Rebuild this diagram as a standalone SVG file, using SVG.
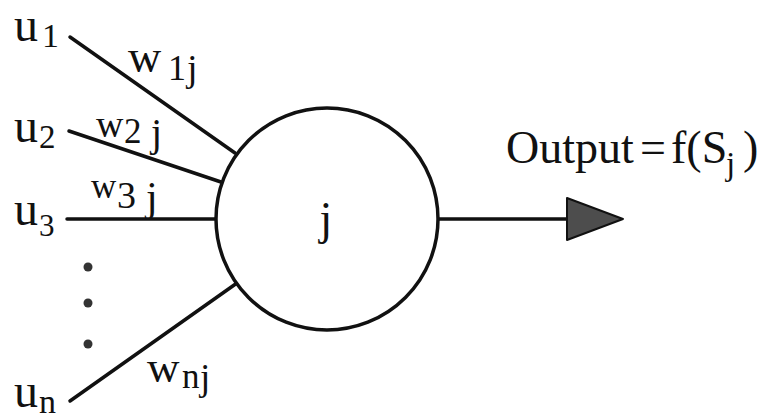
<svg xmlns="http://www.w3.org/2000/svg" width="784" height="417" viewBox="0 0 784 417">
  <style>
    .t { font-family: "Liberation Serif", "Times New Roman", serif; fill: #111; }
    .ln { stroke: #111; stroke-width: 3.5; fill: none; stroke-linecap: round; }
    .dot { fill: #333; }
  </style>
  <rect width="784" height="417" fill="#fff"/>
  <g id="connectors">
    <line class="ln" x1="70" y1="37" x2="235" y2="153"/>
    <line class="ln" x1="69" y1="131" x2="221" y2="182"/>
    <line class="ln" x1="67" y1="219" x2="216" y2="219"/>
    <line class="ln" x1="70" y1="401" x2="237" y2="283"/>
    <line class="ln" x1="438" y1="219" x2="568" y2="219"/>
    <polygon points="567,198 623,219 567,240" fill="#4d4d4d" stroke="#111" stroke-width="2" stroke-linejoin="round"/>
  </g>
  <g id="node-j">
    <circle cx="327" cy="219" r="111" fill="#fff" stroke="#111" stroke-width="3.5"/>
    <text class="t" x="326" y="234" font-size="46" text-anchor="middle">j</text>
  </g>
  <g id="input-u1">
    <text class="t" x="14" y="41" font-size="48">u<tspan x="42" y="47" font-size="34">1</tspan></text>
  </g>
  <g id="input-u2">
    <text class="t" x="14" y="142" font-size="48">u<tspan x="39" y="148" font-size="33">2</tspan></text>
  </g>
  <g id="input-u3">
    <text class="t" x="14" y="225" font-size="48">u<tspan x="39" y="236" font-size="31">3</tspan></text>
  </g>
  <g id="input-dots">
    <circle class="dot" cx="88" cy="267" r="4.5"/>
    <circle class="dot" cx="88" cy="303" r="4.5"/>
    <circle class="dot" cx="88" cy="344" r="4.5"/>
  </g>
  <g id="input-un">
    <text class="t" x="14" y="407" font-size="48">u<tspan x="39" y="413" font-size="34">n</tspan></text>
  </g>
  <g id="weights">
    <text class="t" x="128" y="72" font-size="46">w<tspan x="168" y="80" font-size="36">1</tspan><tspan x="187" y="81" font-size="38">j</tspan></text>
    <text class="t" x="96" y="137" font-size="38">w<tspan x="124" y="143" font-size="35">2</tspan><tspan x="151" y="146" font-size="40">j</tspan></text>
    <text class="t" x="91" y="198" font-size="35">w<tspan x="117" y="208" font-size="38">3</tspan><tspan x="146" y="211" font-size="42">j</tspan></text>
    <text class="t" x="147" y="382" font-size="45">w<tspan x="182" y="388" font-size="35">n</tspan><tspan x="200" y="390" font-size="37">j</tspan></text>
  </g>
  <g id="output-label">
    <text class="t" x="506" y="163" font-size="46">Output<tspan x="640">=</tspan><tspan x="671">f(S</tspan><tspan x="726" y="175" font-size="33">j</tspan><tspan x="743" y="163">)</tspan></text>
  </g>
</svg>
